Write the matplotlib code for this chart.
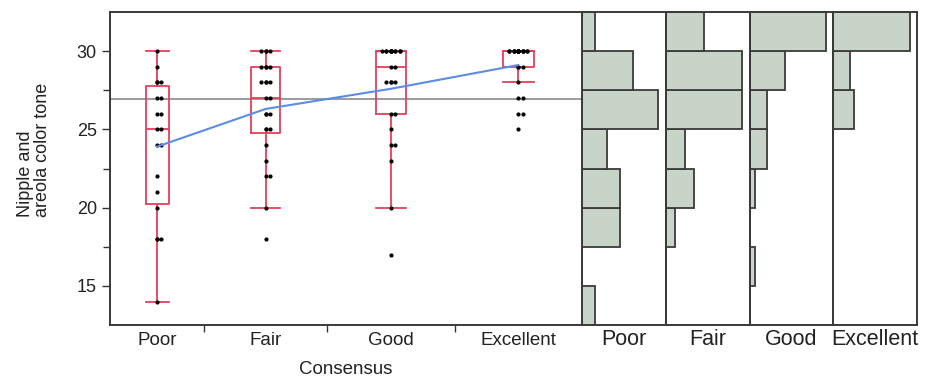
import numpy as np
import matplotlib.pyplot as plt

plt.rcParams['font.family'] = ['Liberation Sans', 'DejaVu Sans']

categories = ["Poor", "Fair", "Good", "Excellent"]

poor = [14, 18, 18, 18, 20, 21, 22, 24, 24, 25, 25, 26, 26, 27, 27, 28, 28, 28, 29, 30]
fair = [18, 20, 22, 22, 23, 24, 25, 25, 25, 26, 26, 26, 27, 27,
        28, 28, 28, 28, 29, 29, 29, 29, 30, 30, 30, 30]
good = [17, 20, 23, 24, 24, 25, 26, 26, 28, 28, 28, 28, 29, 29,
        30, 30, 30, 30, 30, 30, 30, 30, 30, 30, 30, 30, 30]
excellent = [25, 26, 26, 27, 27, 28, 29, 29, 29,
             30, 30, 30, 30, 30, 30, 30, 30, 30, 30, 30, 30, 30, 30, 30, 30, 30, 30]

y_ticks = [15, 20, 25, 30]
y_minor = [17.5, 22.5, 27.5]
bins = np.arange(12.5, 33, 2.5)

groups = [poor, fair, good, excellent]
red = "#e5405a"
blue = "#5a8de3"
fill = "#c7d4c7"
edge = "#3a3a3a"

n = np.array([len(g) for g in groups])
edges = np.concatenate([[0], np.cumsum(n)])
centers = (edges[:-1] + edges[1:]) / 2

fig = plt.figure(figsize=(9.47, 3.83), dpi=100)
W, H = 947, 383
ax = fig.add_axes([110 / W, 58 / H, 472 / W, 313 / H])

stats = []
for g in groups:
    a = np.array(g)
    q1, med, q3 = np.percentile(a, [25, 50, 75], method="weibull")
    iqr = q3 - q1
    lo = a[a >= q1 - 1.5 * iqr].min()
    hi = a[a <= q3 + 1.5 * iqr].max()
    stats.append(dict(med=med, q1=q1, q3=q3, whislo=lo, whishi=hi, fliers=[]))

lp = dict(color=red, lw=1.3)
ax.bxp(stats, positions=centers, widths=0.24 * n, capwidths=0.24 * n,
       showfliers=False, boxprops=lp, medianprops=lp, whiskerprops=lp,
       capprops=lp, manage_ticks=False)

# points, duplicates spread a little sideways (many just overlap)
pattern = [0, 1, 0, -1, 0, 2, -2]
for c, g, k in zip(centers, groups, n):
    seen = {}
    xs = []
    for v in g:
        j = seen.get(v, 0)
        seen[v] = j + 1
        xs.append(c + pattern[j % len(pattern)] * 0.035 * k)
    ax.plot(xs, g, "o", color="black", ms=2.0, zorder=3)

means = [np.mean(g) for g in groups]
ax.plot(centers, means, color=blue, lw=1.5, zorder=4)
ax.axhline(np.mean(np.concatenate(groups)), color="#8a8a8a", lw=1.2, zorder=1)

ax.set_xlim(0, edges[-1])
ax.set_ylim(bins[0], bins[-1])
ax.set_yticks(y_ticks)
ax.set_yticks(y_minor, minor=True)
ax.set_xticks(edges[1:-1])
ax.set_xticklabels([])
ax.set_xticks(centers, minor=True)
ax.set_xticklabels(categories, minor=True)
ax.tick_params(axis="x", which="minor", length=0, labelsize=13.5, pad=5, labelcolor="#222")
ax.tick_params(axis="x", which="major", length=5, width=1, color="#333")
ax.tick_params(axis="y", which="major", length=6, width=1, labelsize=13, color="#333", labelcolor="#222")
ax.tick_params(axis="y", which="minor", length=5, width=1, color="#333")
ax.set_xlabel("Consensus", fontsize=13.5, labelpad=9, color="#222")
fig.text(34 / W, 1 - 217 / H, "Nipple and\nareola color tone", rotation=90,
         ha="center", va="bottom", multialignment="left", fontsize=13,
         linespacing=0.95, color="#222")
for s in ["left", "bottom", "top"]:
    ax.spines[s].set_color(edge)
    ax.spines[s].set_linewidth(1.4)
ax.spines["right"].set_visible(False)

# marginal histograms per group
pw = (917 - 582) / 4
for i, (cat, g) in enumerate(zip(categories, groups)):
    hax = fig.add_axes([(582 + i * pw) / W, 58 / H, pw / W, 313 / H])
    counts, _ = np.histogram(g, bins)
    hax.barh(bins[:-1], counts, height=2.5, align="edge", color=fill,
             edgecolor=edge, lw=1.3)
    hax.set_xlim(0, counts.max() / 0.913)
    hax.set_ylim(bins[0], bins[-1])
    hax.set_xticks([])
    hax.set_yticks([])
    hax.set_xlabel(cat, fontsize=15.5, labelpad=3, color="#222")
    for s in hax.spines.values():
        s.set_color(edge)
        s.set_linewidth(1.4)

fig.savefig("out.png", dpi=100)
